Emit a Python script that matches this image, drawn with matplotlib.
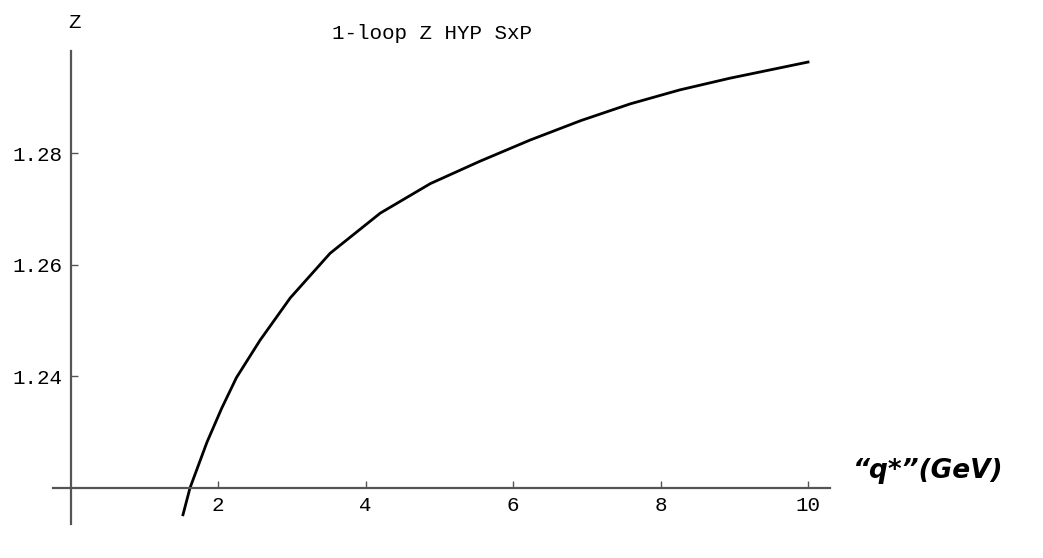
# 1-loop Z (HYP SxP) versus q* -- Mathematica-style plot

import matplotlib.pyplot as plt

# Data
q_star = [1.525, 1.62, 1.85, 2.05, 2.25, 2.57, 2.98, 3.52, 4.2, 4.88,
          5.55, 6.23, 6.92, 7.59, 8.26, 8.94, 10.0]
z_vals = [1.2152, 1.2200, 1.2282, 1.2343, 1.2398, 1.2465, 1.2541, 1.2621,
          1.2693, 1.2746, 1.2786, 1.2824, 1.2859, 1.2889, 1.2914, 1.2935,
          1.2964]

x_ticks = [2, 4, 6, 8, 10]
y_ticks = [1.24, 1.26, 1.28]
y_tick_labels = ["1.24", "1.26", "1.28"]

mono = "Liberation Mono"

fig = plt.figure(figsize=(10.43, 5.58), dpi=100)
ax = fig.add_axes([0, 0, 1, 1])
ax.set_xlim(-0.956, 13.186)
ax.set_ylim(1.20744, 1.30753)

# Axes cross at (0, 1.22) like Mathematica
for side in ["top", "right"]:
    ax.spines[side].set_visible(False)
ax.spines["left"].set_position(("data", 0))
ax.spines["bottom"].set_position(("data", 1.22))
ax.spines["left"].set_bounds(1.2135, 1.2984)
ax.spines["bottom"].set_bounds(-0.24, 10.3)
for side in ["left", "bottom"]:
    ax.spines[side].set_color("#555555")
    ax.spines[side].set_linewidth(1.6)

ax.set_xticks(x_ticks)
ax.set_xticklabels([str(t) for t in x_ticks], fontfamily=mono, fontsize=15)
ax.set_yticks(y_ticks)
ax.set_yticklabels(y_tick_labels, fontfamily=mono, fontsize=15)
ax.tick_params(direction="in", length=5, width=1, color="#555555", pad=6)

ax.plot(q_star, z_vals, color="black", linewidth=2, solid_joinstyle="round")

ax.text(0.05, 1.3035, "Z", fontfamily=mono, fontsize=15, ha="center", va="center")
ax.text(4.9, 1.3015, "1-loop Z HYP SxP", fontfamily=mono, fontsize=15,
        ha="center", va="center")

# handwritten axis label
ax.text(10.6, 1.2230, "\u201cq*\u201d(GeV)", fontsize=19, fontweight="bold",
        fontstyle="italic", ha="left", va="center", color="black")

fig.savefig("out.png", dpi=100)
